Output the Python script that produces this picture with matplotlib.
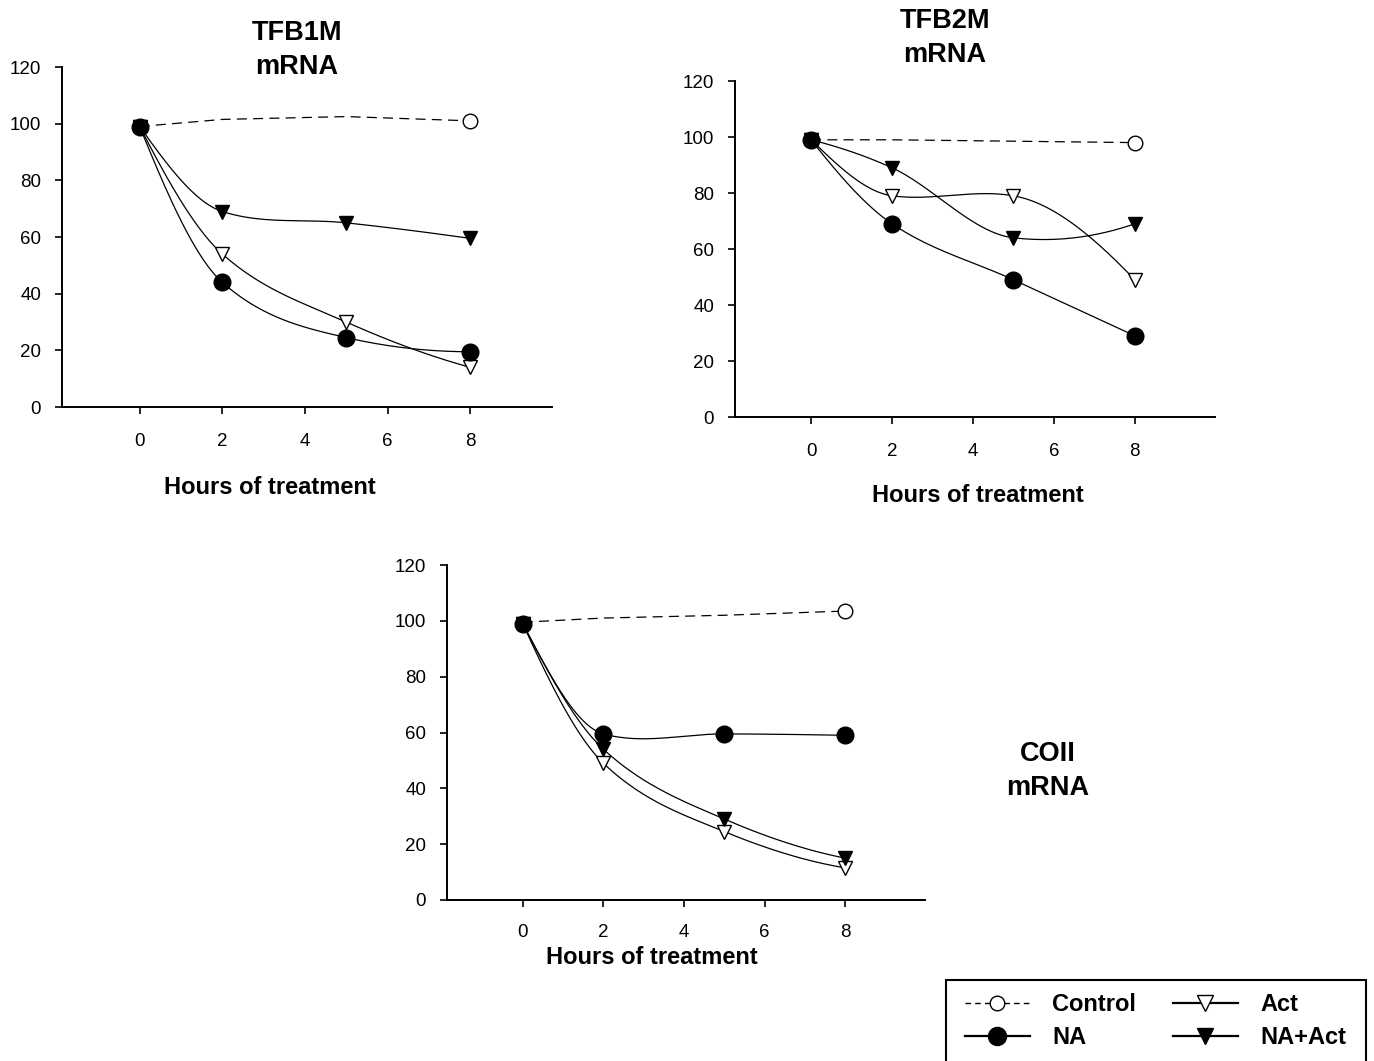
import matplotlib.pyplot as plt
import numpy as np
from matplotlib.lines import Line2D
from matplotlib.patches import Rectangle

plt.rcParams["font.family"] = ["Liberation Sans", "DejaVu Sans"]

hours = [0, 2, 5, 8]
tick_hours = [0, 2, 4, 6, 8]
y_ticks = [0, 20, 40, 60, 80, 100, 120]

# TFB1M mRNA (% of control at 0 h)
tfb1m_control = [99, 101.5, 102.5, 101]
tfb1m_na = [99, 44, 24.5, 19.5]
tfb1m_act = [99, 54, 30, 14]
tfb1m_na_act = [99, 69, 65, 59.5]

# TFB2M mRNA
tfb2m_control = [99, 99, 98.5, 98]
tfb2m_na = [99, 69, 49, 29]
tfb2m_act = [99, 79, 79, 49]
tfb2m_na_act = [99, 89, 64, 69]

# COII mRNA
coii_control = [99.5, 101, 102, 103.5]
coii_na = [99, 59.5, 59.5, 59]
coii_act = [99, 49, 24.5, 11.5]
coii_na_act = [99, 54, 29, 15]

W, H = 1374, 1061


def _end_slope(h0, h1, d0, d1):
    t = ((2 * h0 + h1) * d0 - h0 * d1) / (h0 + h1)
    if np.sign(t) != np.sign(d0):
        return 0.0
    if np.sign(d0) != np.sign(d1) and abs(t) > abs(3 * d0):
        return 3 * d0
    return t


def smooth(x, y, n=200):
    # cubic hermite curve, tangents half-way between pchip and catmull-rom
    x = np.asarray(x, float)
    y = np.asarray(y, float)
    k = len(x)
    h = np.diff(x)
    d = np.diff(y) / h
    s = np.zeros(k)
    for i in range(1, k - 1):
        cr = (y[i + 1] - y[i - 1]) / (x[i + 1] - x[i - 1])
        pc = 0.0
        if d[i - 1] * d[i] > 0:
            w1 = 2 * h[i] + h[i - 1]
            w2 = h[i] + 2 * h[i - 1]
            pc = (w1 + w2) / (w1 / d[i - 1] + w2 / d[i])
        s[i] = 0.5 * (cr + pc)
    s[0] = _end_slope(h[0], h[1], d[0], d[1])
    s[-1] = _end_slope(h[-1], h[-2], d[-1], d[-2])

    xs = np.linspace(x[0], x[-1], n)
    idx = np.clip(np.searchsorted(x, xs) - 1, 0, k - 2)
    hh = h[idx]
    t = (xs - x[idx]) / hh
    h00 = 2 * t**3 - 3 * t**2 + 1
    h10 = t**3 - 2 * t**2 + t
    h01 = -2 * t**3 + 3 * t**2
    h11 = t**3 - t**2
    ys = h00 * y[idx] + h10 * hh * s[idx] + h01 * y[idx + 1] + h11 * hh * s[idx + 1]
    return xs, ys


def px_axes(left, top, right, bottom):
    return [left / W, 1 - bottom / H, (right - left) / W, (bottom - top) / H]


def panel(fig, rect, control, na, act, na_act, xpad):
    ax = fig.add_axes(rect)
    lw = 0.9
    ax.plot(hours, control, color="k", lw=lw, ls=(0, (8, 5)), marker="o",
            markevery=[3], ms=10.5, mfc="white", mec="k", mew=1.0, zorder=2)
    for vals, mk, fc, ms in [(act, "v", "white", 10.5),
                             (na_act, "v", "k", 10.5),
                             (na, "o", "k", 12)]:
        xs, ys = smooth(hours, vals)
        ax.plot(xs, ys, color="k", lw=lw, zorder=2)
        ax.plot(hours, vals, ls="none", marker=mk, ms=ms, mfc=fc, mec="k",
                mew=1.0, zorder=3)
    ax.set_xlim(-1.88, 9.98)
    ax.set_ylim(0, 120)
    ax.set_xticks(tick_hours)
    ax.set_yticks(y_ticks)
    for s in ["top", "right"]:
        ax.spines[s].set_visible(False)
    for s in ["left", "bottom"]:
        ax.spines[s].set_linewidth(1.4)
    ax.tick_params(direction="out", length=5, width=1.2, labelsize=13.5)
    ax.tick_params(axis="x", pad=xpad)
    ax.tick_params(axis="y", pad=10)
    return ax


fig = plt.figure(figsize=(W / 100, H / 100), dpi=100)

panel(fig, px_axes(62, 67, 552, 407), tfb1m_control, tfb1m_na, tfb1m_act,
      tfb1m_na_act, 13.5)
panel(fig, px_axes(735, 81, 1215, 417), tfb2m_control, tfb2m_na, tfb2m_act,
      tfb2m_na_act, 14)
panel(fig, px_axes(447, 565, 925, 900), coii_control, coii_na, coii_act,
      coii_na_act, 12.5)

bold = dict(fontweight="bold", ha="center", va="center")
fig.text(297 / W, 1 - 50 / H, "TFB1M\nmRNA", fontsize=19.5, linespacing=1.4, **bold)
fig.text(945 / W, 1 - 38 / H, "TFB2M\nmRNA", fontsize=19.5, linespacing=1.4, **bold)
fig.text(1048 / W, 1 - 771 / H, "COII\nmRNA", fontsize=19.5, linespacing=1.4, **bold)
fig.text(270 / W, 1 - 488 / H, "Hours of treatment", fontsize=17, **bold)
fig.text(978 / W, 1 - 496 / H, "Hours of treatment", fontsize=17, **bold)
fig.text(652 / W, 1 - 958 / H, "Hours of treatment", fontsize=17, **bold)

handles = [
    Line2D([], [], color="k", lw=1, ls=(0, (4, 3)), marker="o", ms=10.5,
           mfc="white", mec="k"),
    Line2D([], [], color="k", lw=1.6, marker="o", ms=13, mfc="k", mec="k"),
    Line2D([], [], color="k", lw=1.6, marker="v", ms=11.5, mfc="white", mec="k"),
    Line2D([], [], color="k", lw=1.6, marker="v", ms=11.5, mfc="k", mec="k"),
]
labels = ["Control", "NA", "Act", "NA+Act"]
fig.legend(handles, labels, ncol=2, loc="upper left",
           bbox_to_anchor=(965 / W, 1 - 993 / H), frameon=False,
           borderpad=0, borderaxespad=0, numpoints=1,
           handlelength=2.75, handletextpad=0.95, columnspacing=1.55,
           labelspacing=0.44, prop=dict(weight="bold", size=17))
fig.patches.append(Rectangle((946 / W, -0.01), (1366 - 946) / W,
                             1 - 980 / H + 0.01, transform=fig.transFigure,
                             fill=False, edgecolor="k", lw=1.5))

fig.savefig("out.png", dpi=100)
